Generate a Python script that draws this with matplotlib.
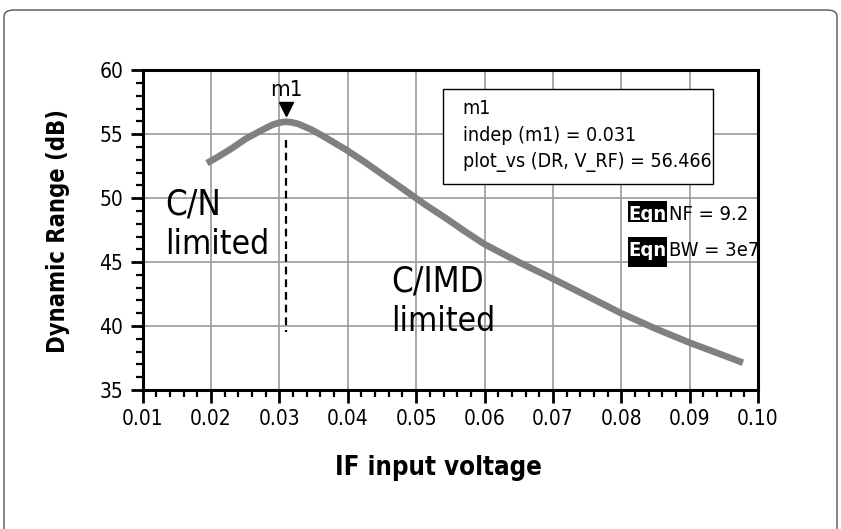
import matplotlib
matplotlib.use("Agg")
import matplotlib.pyplot as plt
from matplotlib.patches import FancyBboxPatch, Rectangle
from matplotlib.ticker import MultipleLocator

plt.rcParams['font.family'] = ['DejaVu Sans']
plt.rcParams['font.stretch'] = 'condensed'

# data
v_if = [0.0194, 0.0211, 0.0231, 0.0250, 0.0270, 0.0289, 0.0299, 0.0309, 0.0318,
        0.0328, 0.0348, 0.0367, 0.0398, 0.0426, 0.0455, 0.0484, 0.0513, 0.0543,
        0.057, 0.060, 0.065, 0.070, 0.075, 0.080, 0.085, 0.090, 0.095, 0.0978]
dr_db = [52.74, 53.26, 53.92, 54.62, 55.20, 55.72, 55.90, 55.98, 55.93,
         55.80, 55.33, 54.76, 53.77, 52.78, 51.69, 50.60, 49.50, 48.45,
         47.45, 46.40, 45.00, 43.70, 42.35, 41.00, 39.80, 38.70, 37.70, 37.13]
marker_x = 0.031
marker_y = 56.466
x_ticks = [0.01, 0.02, 0.03, 0.04, 0.05, 0.06, 0.07, 0.08, 0.09, 0.10]
x_tick_labels = ["0.01", "0.02", "0.03", "0.04", "0.05", "0.06", "0.07", "0.08", "0.09", "0.10"]
y_ticks = [35, 40, 45, 50, 55, 60]

W, H = 841, 529
fig = plt.figure(figsize=(W / 100, H / 100), dpi=100)

def fx(px):
    return px / W

def fy(py):
    return 1 - py / H

# outer rounded frame
frame = FancyBboxPatch((fx(4), fy(540)), 833 / W, 530 / H,
                       boxstyle="round,pad=0,rounding_size=0.012",
                       transform=fig.transFigure, fill=False,
                       edgecolor="#555555", linewidth=1.0)
fig.patches.append(frame)

ax = fig.add_axes([fx(142.7), fy(390), (758 - 142.7) / W, (390 - 70.3) / H])
ax.set_xlim(0.01, 0.10)
ax.set_ylim(35, 60)

ax.grid(True, which="major", color="#9a9a9a", linewidth=1.2)
ax.set_axisbelow(True)

ax.plot(v_if, dr_db, color="#808080", linewidth=4.8, solid_capstyle="butt",
        solid_joinstyle="round", zorder=3)

# marker
ax.plot([marker_x, marker_x], [54.55, 39.5], color="black", linestyle=(0, (3.5, 2.2)),
        linewidth=1.6, zorder=4)
ax.plot([marker_x], [57.0], marker="v", color="black", markersize=10, zorder=5)
ax.text(marker_x, 58.0, "m1", ha="center", va="baseline", fontsize=16)

# marker readout box
ax.add_patch(Rectangle((0.0539, 51.1), 0.0934 - 0.0539, 58.54 - 51.1,
                       facecolor="white", edgecolor="black", linewidth=1.0, zorder=6))
box_lines = ["m1", "indep (m1) = 0.031", "plot_vs (DR, V_RF) = 56.466"]
for i, line in enumerate(box_lines):
    fig.text(fx(462.7), fy(109 + 26.7 * i), line,
             ha="left", va="center", fontsize=14, zorder=7)

# equations
eqns = [("NF = 9.2", 214, 201, 222), ("BW = 3e7", 251, 237, 267)]
for txt, yc, ytop, ybot in eqns:
    fig.patches.append(Rectangle((fx(628), fy(ybot)), 39 / W, (ybot - ytop) / H,
                                 transform=fig.transFigure, facecolor="black",
                                 edgecolor="none", zorder=8))
    fig.text(fx(647.5), fy(yc), "Eqn", color="white", fontweight="bold", fontsize=14.5,
             ha="center", va="center", zorder=9)
    fig.text(fx(669), fy(yc), txt, color="black", fontsize=14.5,
             ha="left", va="center", zorder=9)

# region annotations
ax.text(0.01327, 48.7, "C/N", fontsize=25, ha="left", va="baseline")
ax.text(0.01327, 45.66, "limited", fontsize=24, ha="left", va="baseline")
ax.text(0.0463, 42.7, "C/IMD", fontsize=25, ha="left", va="baseline")
ax.text(0.0463, 39.58, "limited", fontsize=24, ha="left", va="baseline")

# axes styling
for s in ax.spines.values():
    s.set_linewidth(2.2)
    s.set_color("black")
ax.set_xticks(x_ticks)
ax.set_xticklabels(x_tick_labels)
ax.set_yticks(y_ticks)
ax.xaxis.set_minor_locator(MultipleLocator(0.002))
ax.yaxis.set_minor_locator(MultipleLocator(1))
ax.tick_params(which="major", direction="out", length=9, width=2.0, labelsize=15, pad=5)
ax.tick_params(which="minor", direction="out", length=5, width=1.6)

fig.text(fx(438), fy(468), "IF input voltage", fontsize=18.5, fontweight="bold",
         ha="center", va="center")
fig.text(fx(58), fy(231), "Dynamic Range (dB)", fontsize=17, fontweight="bold",
         ha="center", va="center", rotation=90)

fig.savefig("out.png", dpi=100)
